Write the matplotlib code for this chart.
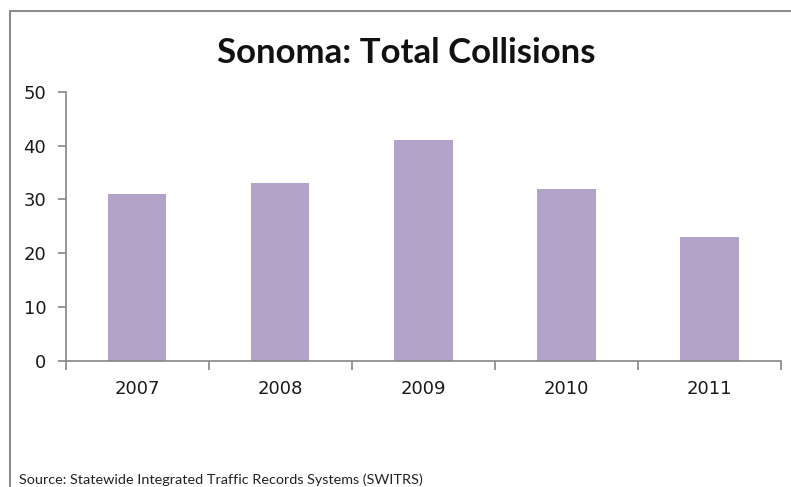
import matplotlib.pyplot as plt
from matplotlib.patches import Rectangle
import numpy as np

plt.rcParams['font.family'] = 'DejaVu Sans'

# Data
years = ['2007', '2008', '2009', '2010', '2011']
collisions = [31, 33, 41, 32, 23]

fig = plt.figure(figsize=(7.91, 4.87), dpi=100)
ax = fig.add_axes([0.083, 0.2587, 0.904, 0.553])

x = np.arange(len(years))
ax.bar(x, collisions, width=0.41, color='#B3A2C7')

ax.set_xlim(-0.5, len(years) - 0.5)
ax.set_ylim(0, 50)
ax.set_yticks([0, 10, 20, 30, 40, 50])

# category labels in the middle, tick marks on the boundaries
ax.set_xticks(x)
ax.set_xticklabels(years)
ax.set_xticks(np.arange(-0.5, len(years), 1), minor=True)
ax.tick_params(axis='x', which='major', length=0, pad=14, labelsize=13, labelcolor='#1a1a1a')
ax.tick_params(axis='x', which='minor', length=6.5, width=1.2, color='#868686')
ax.tick_params(axis='y', length=6, width=1.2, color='#868686', pad=8, labelsize=13, labelcolor='#1a1a1a')

for side in ['top', 'right']:
    ax.spines[side].set_visible(False)
for side in ['left', 'bottom']:
    ax.spines[side].set_color('#868686')
    ax.spines[side].set_linewidth(1.2)

fig.text(0.513, 1 - 53 / 487, 'Sonoma: Total Collisions', ha='center', va='center',
         fontsize=25, fontweight='bold', family='Lato', color='#111111')

fig.text(19 / 791, 1 - 473 / 487, 'Source: Statewide Integrated Traffic Records Systems (SWITRS)',
         ha='left', va='top', fontsize=10.4, family='Lato', color='#222222')

# outer chart border (only top and left are visible in the image)
border = Rectangle((10 / 791, -0.2), 1.2, 1 - 11 / 487 + 0.2, transform=fig.transFigure,
                   fill=False, edgecolor='#8c8c8c', linewidth=1.5, clip_on=False)
fig.patches.append(border)

fig.savefig('out.png', dpi=100)
